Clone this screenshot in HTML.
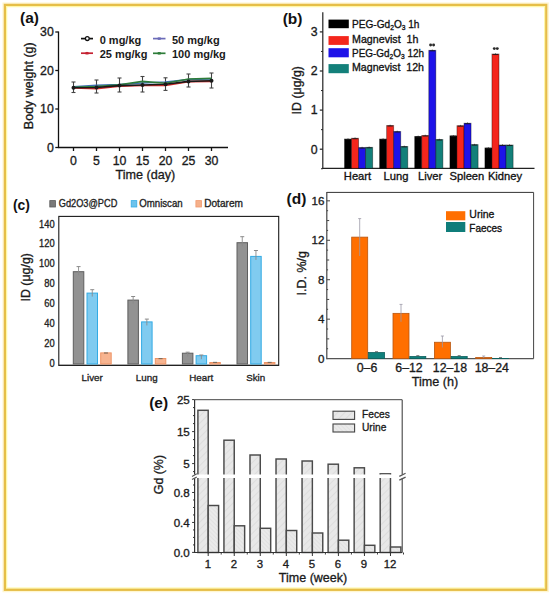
<!DOCTYPE html>
<html><head><meta charset="utf-8"><style>
html,body{margin:0;padding:0;background:#fff;}
svg{display:block;font-family:"Liberation Sans", sans-serif;}
</style></head><body>
<svg width="550" height="595" viewBox="0 0 550 595">
<rect width="550" height="595" fill="#fff"/>
<rect x="3.00" y="3.00" width="545.30" height="588.70" fill="none" stroke="#FFF6C8" stroke-width="1.0" />
<rect x="6.60" y="6.60" width="538.10" height="581.50" fill="none" stroke="#FFF7A6" stroke-width="1.3" />
<rect x="4.85" y="4.85" width="541.45" height="584.95" fill="none" stroke="#E6BE48" stroke-width="2.3" />
<text x="20.00" y="22.50" font-size="15.5" text-anchor="start" font-weight="700" fill="#111" stroke="#111" stroke-width="0.0" >(a)</text>
<line x1="58.50" y1="31.50" x2="58.50" y2="148.00" stroke="#111" stroke-width="1.3" />
<line x1="57.90" y1="147.50" x2="228.00" y2="147.50" stroke="#111" stroke-width="1.3" />
<line x1="55.30" y1="147.50" x2="58.50" y2="147.50" stroke="#111" stroke-width="1.3" />
<text x="53.80" y="151.90" font-size="12.3" text-anchor="end" font-weight="400" fill="#1a1a1a" stroke="#1a1a1a" stroke-width="0.32" >0</text>
<line x1="55.30" y1="109.00" x2="58.50" y2="109.00" stroke="#111" stroke-width="1.3" />
<text x="53.80" y="113.40" font-size="12.3" text-anchor="end" font-weight="400" fill="#1a1a1a" stroke="#1a1a1a" stroke-width="0.32" >10</text>
<line x1="55.30" y1="70.50" x2="58.50" y2="70.50" stroke="#111" stroke-width="1.3" />
<text x="53.80" y="74.90" font-size="12.3" text-anchor="end" font-weight="400" fill="#1a1a1a" stroke="#1a1a1a" stroke-width="0.32" >20</text>
<line x1="55.30" y1="32.00" x2="58.50" y2="32.00" stroke="#111" stroke-width="1.3" />
<text x="53.80" y="36.40" font-size="12.3" text-anchor="end" font-weight="400" fill="#1a1a1a" stroke="#1a1a1a" stroke-width="0.32" >30</text>
<line x1="73.50" y1="147.50" x2="73.50" y2="151.00" stroke="#111" stroke-width="1.3" />
<text x="73.50" y="164.80" font-size="12.3" text-anchor="middle" font-weight="400" fill="#1a1a1a" stroke="#1a1a1a" stroke-width="0.32" >0</text>
<line x1="96.50" y1="147.50" x2="96.50" y2="151.00" stroke="#111" stroke-width="1.3" />
<text x="96.50" y="164.80" font-size="12.3" text-anchor="middle" font-weight="400" fill="#1a1a1a" stroke="#1a1a1a" stroke-width="0.32" >5</text>
<line x1="119.50" y1="147.50" x2="119.50" y2="151.00" stroke="#111" stroke-width="1.3" />
<text x="119.50" y="164.80" font-size="12.3" text-anchor="middle" font-weight="400" fill="#1a1a1a" stroke="#1a1a1a" stroke-width="0.32" >10</text>
<line x1="142.50" y1="147.50" x2="142.50" y2="151.00" stroke="#111" stroke-width="1.3" />
<text x="142.50" y="164.80" font-size="12.3" text-anchor="middle" font-weight="400" fill="#1a1a1a" stroke="#1a1a1a" stroke-width="0.32" >15</text>
<line x1="165.50" y1="147.50" x2="165.50" y2="151.00" stroke="#111" stroke-width="1.3" />
<text x="165.50" y="164.80" font-size="12.3" text-anchor="middle" font-weight="400" fill="#1a1a1a" stroke="#1a1a1a" stroke-width="0.32" >20</text>
<line x1="188.50" y1="147.50" x2="188.50" y2="151.00" stroke="#111" stroke-width="1.3" />
<text x="188.50" y="164.80" font-size="12.3" text-anchor="middle" font-weight="400" fill="#1a1a1a" stroke="#1a1a1a" stroke-width="0.32" >25</text>
<line x1="211.50" y1="147.50" x2="211.50" y2="151.00" stroke="#111" stroke-width="1.3" />
<text x="211.50" y="164.80" font-size="12.3" text-anchor="middle" font-weight="400" fill="#1a1a1a" stroke="#1a1a1a" stroke-width="0.32" >30</text>
<text x="145.30" y="179.20" font-size="12.6" text-anchor="middle" font-weight="400" fill="#1a1a1a" stroke="#1a1a1a" stroke-width="0.32" >Time (day)</text>
<text x="32.60" y="85.70" font-size="12.5" text-anchor="middle" font-weight="400" fill="#1a1a1a" stroke="#1a1a1a" stroke-width="0.32" transform="rotate(-90 32.60 85.70)" >Body weight (g)</text>
<line x1="73.50" y1="82.00" x2="73.50" y2="92.50" stroke="#444" stroke-width="1.1" />
<line x1="71.50" y1="82.00" x2="75.50" y2="82.00" stroke="#444" stroke-width="1.1" />
<line x1="71.50" y1="92.50" x2="75.50" y2="92.50" stroke="#444" stroke-width="1.1" />
<line x1="96.50" y1="80.00" x2="96.50" y2="93.00" stroke="#444" stroke-width="1.1" />
<line x1="94.50" y1="80.00" x2="98.50" y2="80.00" stroke="#444" stroke-width="1.1" />
<line x1="94.50" y1="93.00" x2="98.50" y2="93.00" stroke="#444" stroke-width="1.1" />
<line x1="119.50" y1="78.00" x2="119.50" y2="92.00" stroke="#444" stroke-width="1.1" />
<line x1="117.50" y1="78.00" x2="121.50" y2="78.00" stroke="#444" stroke-width="1.1" />
<line x1="117.50" y1="92.00" x2="121.50" y2="92.00" stroke="#444" stroke-width="1.1" />
<line x1="142.50" y1="76.50" x2="142.50" y2="92.00" stroke="#444" stroke-width="1.1" />
<line x1="140.50" y1="76.50" x2="144.50" y2="76.50" stroke="#444" stroke-width="1.1" />
<line x1="140.50" y1="92.00" x2="144.50" y2="92.00" stroke="#444" stroke-width="1.1" />
<line x1="165.50" y1="77.80" x2="165.50" y2="90.40" stroke="#444" stroke-width="1.1" />
<line x1="163.50" y1="77.80" x2="167.50" y2="77.80" stroke="#444" stroke-width="1.1" />
<line x1="163.50" y1="90.40" x2="167.50" y2="90.40" stroke="#444" stroke-width="1.1" />
<line x1="188.50" y1="74.00" x2="188.50" y2="87.00" stroke="#444" stroke-width="1.1" />
<line x1="186.50" y1="74.00" x2="190.50" y2="74.00" stroke="#444" stroke-width="1.1" />
<line x1="186.50" y1="87.00" x2="190.50" y2="87.00" stroke="#444" stroke-width="1.1" />
<line x1="211.50" y1="73.00" x2="211.50" y2="88.00" stroke="#444" stroke-width="1.1" />
<line x1="209.50" y1="73.00" x2="213.50" y2="73.00" stroke="#444" stroke-width="1.1" />
<line x1="209.50" y1="88.00" x2="213.50" y2="88.00" stroke="#444" stroke-width="1.1" />
<polyline points="73.5,86.7 96.5,85.3 119.5,84.5 142.5,83.0 165.5,82.0 188.5,79.5 211.5,79.0" fill="none" stroke="#3f6fb0" stroke-width="1.6"/>
<polyline points="73.5,87.2 96.5,86.5 119.5,84.8 142.5,81.4 165.5,83.2 188.5,79.0 211.5,78.4" fill="none" stroke="#2e7d3a" stroke-width="1.6"/>
<polyline points="73.5,88.0 96.5,88.6 119.5,86.3 142.5,85.5 165.5,85.5 188.5,81.6 211.5,81.4" fill="none" stroke="#d42a2a" stroke-width="1.6"/>
<polyline points="73.5,87.7 96.5,87.5 119.5,85.6 142.5,85.0 165.5,84.3 188.5,81.4 211.5,80.8" fill="none" stroke="#1a1a1a" stroke-width="1.6"/>
<circle cx="73.5" cy="87.7" r="2.0" fill="#1a1a1a"/>
<circle cx="96.5" cy="87.5" r="2.0" fill="#1a1a1a"/>
<circle cx="119.5" cy="85.6" r="2.0" fill="#1a1a1a"/>
<circle cx="142.5" cy="85.0" r="2.0" fill="#1a1a1a"/>
<circle cx="165.5" cy="84.3" r="2.0" fill="#1a1a1a"/>
<circle cx="188.5" cy="81.4" r="2.0" fill="#1a1a1a"/>
<circle cx="211.5" cy="80.8" r="2.0" fill="#1a1a1a"/>
<line x1="81.00" y1="38.60" x2="93.00" y2="38.60" stroke="#111" stroke-width="1.7" />
<circle cx="87.3" cy="38.6" r="1.9" fill="#fff" stroke="#111" stroke-width="1.3"/>
<line x1="81.00" y1="53.20" x2="93.00" y2="53.20" stroke="#c52232" stroke-width="1.7" />
<line x1="85.50" y1="53.20" x2="88.50" y2="53.20" stroke="#c52232" stroke-width="2.5" />
<line x1="153.00" y1="38.60" x2="165.50" y2="38.60" stroke="#6b6bb8" stroke-width="1.7" />
<line x1="157.75" y1="38.60" x2="160.75" y2="38.60" stroke="#6b6bb8" stroke-width="2.5" />
<line x1="153.00" y1="53.30" x2="165.50" y2="53.30" stroke="#2e7d3a" stroke-width="1.7" />
<line x1="157.75" y1="53.30" x2="160.75" y2="53.30" stroke="#2e7d3a" stroke-width="2.5" />
<text x="99.70" y="43.60" font-size="11" text-anchor="start" font-weight="700" fill="#1a1a1a" stroke="#1a1a1a" stroke-width="0.0" >0 mg/kg</text>
<text x="99.70" y="58.20" font-size="11" text-anchor="start" font-weight="700" fill="#1a1a1a" stroke="#1a1a1a" stroke-width="0.0" >25 mg/kg</text>
<text x="172.00" y="43.60" font-size="11" text-anchor="start" font-weight="700" fill="#1a1a1a" stroke="#1a1a1a" stroke-width="0.0" >50 mg/kg</text>
<text x="172.00" y="58.20" font-size="11" text-anchor="start" font-weight="700" fill="#1a1a1a" stroke="#1a1a1a" stroke-width="0.0" >100 mg/kg</text>
<text x="282.70" y="24.30" font-size="15.5" text-anchor="start" font-weight="700" fill="#111" stroke="#111" stroke-width="0.0" >(b)</text>
<line x1="322.80" y1="12.30" x2="322.80" y2="168.50" stroke="#222" stroke-width="1.2" />
<line x1="322.20" y1="168.30" x2="534.50" y2="168.30" stroke="#222" stroke-width="1.2" />
<line x1="319.80" y1="149.20" x2="322.80" y2="149.20" stroke="#222" stroke-width="1.2" />
<text x="317.60" y="153.50" font-size="12.3" text-anchor="end" font-weight="400" fill="#1a1a1a" stroke="#1a1a1a" stroke-width="0.32" >0</text>
<line x1="319.80" y1="110.10" x2="322.80" y2="110.10" stroke="#222" stroke-width="1.2" />
<text x="317.60" y="114.40" font-size="12.3" text-anchor="end" font-weight="400" fill="#1a1a1a" stroke="#1a1a1a" stroke-width="0.32" >1</text>
<line x1="319.80" y1="71.00" x2="322.80" y2="71.00" stroke="#222" stroke-width="1.2" />
<text x="317.60" y="75.30" font-size="12.3" text-anchor="end" font-weight="400" fill="#1a1a1a" stroke="#1a1a1a" stroke-width="0.32" >2</text>
<line x1="319.80" y1="31.90" x2="322.80" y2="31.90" stroke="#222" stroke-width="1.2" />
<text x="317.60" y="36.20" font-size="12.3" text-anchor="end" font-weight="400" fill="#1a1a1a" stroke="#1a1a1a" stroke-width="0.32" >3</text>
<line x1="321.00" y1="168.75" x2="322.80" y2="168.75" stroke="#222" stroke-width="1.0" />
<line x1="321.00" y1="129.65" x2="322.80" y2="129.65" stroke="#222" stroke-width="1.0" />
<line x1="321.00" y1="90.55" x2="322.80" y2="90.55" stroke="#222" stroke-width="1.0" />
<line x1="321.00" y1="51.45" x2="322.80" y2="51.45" stroke="#222" stroke-width="1.0" />
<text x="300.80" y="90.20" font-size="12.6" text-anchor="middle" font-weight="400" fill="#1a1a1a" stroke="#1a1a1a" stroke-width="0.32" transform="rotate(-90 300.80 90.20)" textLength="48.4" lengthAdjust="spacingAndGlyphs">ID (μg/g)</text>
<rect x="344.50" y="139.00" width="7.05" height="29.30" fill="#000000" stroke="rgba(0,0,0,0.45)" stroke-width="0.8" />
<line x1="345.30" y1="139.50" x2="350.70" y2="139.50" stroke="#1a1a1a" stroke-width="1.1" opacity="0.85"/>
<line x1="348.00" y1="138.20" x2="348.00" y2="139.50" stroke="#1a1a1a" stroke-width="0.9" opacity="0.6"/>
<rect x="351.55" y="138.20" width="7.05" height="30.10" fill="#f4261c" stroke="rgba(0,0,0,0.45)" stroke-width="0.8" />
<line x1="352.35" y1="138.70" x2="357.75" y2="138.70" stroke="#1a1a1a" stroke-width="1.1" opacity="0.85"/>
<line x1="355.05" y1="137.40" x2="355.05" y2="138.70" stroke="#1a1a1a" stroke-width="0.9" opacity="0.6"/>
<rect x="358.60" y="147.60" width="7.05" height="20.70" fill="#1d12e8" stroke="rgba(0,0,0,0.45)" stroke-width="0.8" />
<line x1="359.40" y1="148.10" x2="364.80" y2="148.10" stroke="#1a1a1a" stroke-width="1.1" opacity="0.85"/>
<line x1="362.10" y1="146.80" x2="362.10" y2="148.10" stroke="#1a1a1a" stroke-width="0.9" opacity="0.6"/>
<rect x="365.65" y="147.30" width="7.05" height="21.00" fill="#13807a" stroke="rgba(0,0,0,0.45)" stroke-width="0.8" />
<line x1="366.45" y1="147.80" x2="371.85" y2="147.80" stroke="#1a1a1a" stroke-width="1.1" opacity="0.85"/>
<line x1="369.15" y1="146.50" x2="369.15" y2="147.80" stroke="#1a1a1a" stroke-width="0.9" opacity="0.6"/>
<rect x="379.60" y="139.00" width="7.05" height="29.30" fill="#000000" stroke="rgba(0,0,0,0.45)" stroke-width="0.8" />
<line x1="380.40" y1="139.50" x2="385.80" y2="139.50" stroke="#1a1a1a" stroke-width="1.1" opacity="0.85"/>
<line x1="383.10" y1="138.20" x2="383.10" y2="139.50" stroke="#1a1a1a" stroke-width="0.9" opacity="0.6"/>
<rect x="386.65" y="125.50" width="7.05" height="42.80" fill="#f4261c" stroke="rgba(0,0,0,0.45)" stroke-width="0.8" />
<line x1="387.45" y1="126.00" x2="392.85" y2="126.00" stroke="#1a1a1a" stroke-width="1.1" opacity="0.85"/>
<line x1="390.15" y1="124.70" x2="390.15" y2="126.00" stroke="#1a1a1a" stroke-width="0.9" opacity="0.6"/>
<rect x="393.70" y="131.50" width="7.05" height="36.80" fill="#1d12e8" stroke="rgba(0,0,0,0.45)" stroke-width="0.8" />
<line x1="394.50" y1="132.00" x2="399.90" y2="132.00" stroke="#1a1a1a" stroke-width="1.1" opacity="0.85"/>
<line x1="397.20" y1="130.70" x2="397.20" y2="132.00" stroke="#1a1a1a" stroke-width="0.9" opacity="0.6"/>
<rect x="400.75" y="146.40" width="7.05" height="21.90" fill="#13807a" stroke="rgba(0,0,0,0.45)" stroke-width="0.8" />
<line x1="401.55" y1="146.90" x2="406.95" y2="146.90" stroke="#1a1a1a" stroke-width="1.1" opacity="0.85"/>
<line x1="404.25" y1="145.60" x2="404.25" y2="146.90" stroke="#1a1a1a" stroke-width="0.9" opacity="0.6"/>
<rect x="414.70" y="136.40" width="7.05" height="31.90" fill="#000000" stroke="rgba(0,0,0,0.45)" stroke-width="0.8" />
<line x1="415.50" y1="136.90" x2="420.90" y2="136.90" stroke="#1a1a1a" stroke-width="1.1" opacity="0.85"/>
<line x1="418.20" y1="135.60" x2="418.20" y2="136.90" stroke="#1a1a1a" stroke-width="0.9" opacity="0.6"/>
<rect x="421.75" y="135.50" width="7.05" height="32.80" fill="#f4261c" stroke="rgba(0,0,0,0.45)" stroke-width="0.8" />
<line x1="422.55" y1="136.00" x2="427.95" y2="136.00" stroke="#1a1a1a" stroke-width="1.1" opacity="0.85"/>
<line x1="425.25" y1="134.70" x2="425.25" y2="136.00" stroke="#1a1a1a" stroke-width="0.9" opacity="0.6"/>
<rect x="428.80" y="50.30" width="7.05" height="118.00" fill="#1d12e8" stroke="rgba(0,0,0,0.45)" stroke-width="0.8" />
<line x1="429.60" y1="50.80" x2="435.00" y2="50.80" stroke="#1a1a1a" stroke-width="1.1" opacity="0.85"/>
<line x1="432.30" y1="49.50" x2="432.30" y2="50.80" stroke="#1a1a1a" stroke-width="0.9" opacity="0.6"/>
<rect x="435.85" y="139.50" width="7.05" height="28.80" fill="#13807a" stroke="rgba(0,0,0,0.45)" stroke-width="0.8" />
<line x1="436.65" y1="140.00" x2="442.05" y2="140.00" stroke="#1a1a1a" stroke-width="1.1" opacity="0.85"/>
<line x1="439.35" y1="138.70" x2="439.35" y2="140.00" stroke="#1a1a1a" stroke-width="0.9" opacity="0.6"/>
<rect x="449.90" y="135.80" width="7.05" height="32.50" fill="#000000" stroke="rgba(0,0,0,0.45)" stroke-width="0.8" />
<line x1="450.70" y1="136.30" x2="456.10" y2="136.30" stroke="#1a1a1a" stroke-width="1.1" opacity="0.85"/>
<line x1="453.40" y1="135.00" x2="453.40" y2="136.30" stroke="#1a1a1a" stroke-width="0.9" opacity="0.6"/>
<rect x="456.95" y="125.70" width="7.05" height="42.60" fill="#f4261c" stroke="rgba(0,0,0,0.45)" stroke-width="0.8" />
<line x1="457.75" y1="126.20" x2="463.15" y2="126.20" stroke="#1a1a1a" stroke-width="1.1" opacity="0.85"/>
<line x1="460.45" y1="124.90" x2="460.45" y2="126.20" stroke="#1a1a1a" stroke-width="0.9" opacity="0.6"/>
<rect x="464.00" y="123.20" width="7.05" height="45.10" fill="#1d12e8" stroke="rgba(0,0,0,0.45)" stroke-width="0.8" />
<line x1="464.80" y1="123.70" x2="470.20" y2="123.70" stroke="#1a1a1a" stroke-width="1.1" opacity="0.85"/>
<line x1="467.50" y1="122.40" x2="467.50" y2="123.70" stroke="#1a1a1a" stroke-width="0.9" opacity="0.6"/>
<rect x="471.05" y="144.60" width="7.05" height="23.70" fill="#13807a" stroke="rgba(0,0,0,0.45)" stroke-width="0.8" />
<line x1="471.85" y1="145.10" x2="477.25" y2="145.10" stroke="#1a1a1a" stroke-width="1.1" opacity="0.85"/>
<line x1="474.55" y1="143.80" x2="474.55" y2="145.10" stroke="#1a1a1a" stroke-width="0.9" opacity="0.6"/>
<rect x="484.90" y="147.90" width="7.05" height="20.40" fill="#000000" stroke="rgba(0,0,0,0.45)" stroke-width="0.8" />
<line x1="485.70" y1="148.40" x2="491.10" y2="148.40" stroke="#1a1a1a" stroke-width="1.1" opacity="0.85"/>
<line x1="488.40" y1="147.10" x2="488.40" y2="148.40" stroke="#1a1a1a" stroke-width="0.9" opacity="0.6"/>
<rect x="491.95" y="54.00" width="7.05" height="114.30" fill="#f4261c" stroke="rgba(0,0,0,0.45)" stroke-width="0.8" />
<line x1="492.75" y1="54.50" x2="498.15" y2="54.50" stroke="#1a1a1a" stroke-width="1.1" opacity="0.85"/>
<line x1="495.45" y1="53.20" x2="495.45" y2="54.50" stroke="#1a1a1a" stroke-width="0.9" opacity="0.6"/>
<rect x="499.00" y="145.00" width="7.05" height="23.30" fill="#1d12e8" stroke="rgba(0,0,0,0.45)" stroke-width="0.8" />
<line x1="499.80" y1="145.50" x2="505.20" y2="145.50" stroke="#1a1a1a" stroke-width="1.1" opacity="0.85"/>
<line x1="502.50" y1="144.20" x2="502.50" y2="145.50" stroke="#1a1a1a" stroke-width="0.9" opacity="0.6"/>
<rect x="506.05" y="145.00" width="7.05" height="23.30" fill="#13807a" stroke="rgba(0,0,0,0.45)" stroke-width="0.8" />
<line x1="506.85" y1="145.50" x2="512.25" y2="145.50" stroke="#1a1a1a" stroke-width="1.1" opacity="0.85"/>
<line x1="509.55" y1="144.20" x2="509.55" y2="145.50" stroke="#1a1a1a" stroke-width="0.9" opacity="0.6"/>
<text x="357.50" y="179.50" font-size="11.2" text-anchor="middle" font-weight="400" fill="#111" stroke="#111" stroke-width="0.32" >Heart</text>
<text x="396.00" y="179.50" font-size="11.2" text-anchor="middle" font-weight="400" fill="#111" stroke="#111" stroke-width="0.32" >Lung</text>
<text x="430.10" y="179.50" font-size="11.2" text-anchor="middle" font-weight="400" fill="#111" stroke="#111" stroke-width="0.32" >Liver</text>
<text x="466.90" y="179.50" font-size="11.2" text-anchor="middle" font-weight="400" fill="#111" stroke="#111" stroke-width="0.32" >Spleen</text>
<text x="505.00" y="179.50" font-size="11.2" text-anchor="middle" font-weight="400" fill="#111" stroke="#111" stroke-width="0.32" >Kidney</text>
<circle cx="430.6" cy="45.0" r="1.45" fill="#2a2a2a"/>
<circle cx="433.6" cy="45.0" r="1.45" fill="#2a2a2a"/>
<circle cx="494.3" cy="48.6" r="1.45" fill="#2a2a2a"/>
<circle cx="497.3" cy="48.6" r="1.45" fill="#2a2a2a"/>
<rect x="328.50" y="19.60" width="20.30" height="8.60" fill="#000000" stroke="none" stroke-width="0" />
<rect x="328.50" y="36.10" width="20.30" height="8.80" fill="#f4261c" stroke="none" stroke-width="0" />
<rect x="328.50" y="48.20" width="20.30" height="9.10" fill="#1d12e8" stroke="none" stroke-width="0" />
<rect x="328.50" y="64.10" width="20.30" height="9.10" fill="#13807a" stroke="none" stroke-width="0" />
<text x="352.00" y="28.30" font-size="10.6" text-anchor="start" font-weight="400" fill="#111" stroke="#111" stroke-width="0.32" textLength="67.5" lengthAdjust="spacingAndGlyphs">PEG-Gd<tspan font-size="7" dy="2">2</tspan><tspan dy="-2">O</tspan><tspan font-size="7" dy="2">3</tspan><tspan dy="-2"> 1h</tspan></text>
<text x="352.00" y="43.20" font-size="10.6" text-anchor="start" font-weight="400" fill="#111" stroke="#111" stroke-width="0.32" xml:space="preserve" textLength="66.5" lengthAdjust="spacingAndGlyphs">Magnevist  1h</text>
<text x="352.00" y="56.60" font-size="10.6" text-anchor="start" font-weight="400" fill="#111" stroke="#111" stroke-width="0.32" textLength="72" lengthAdjust="spacingAndGlyphs">PEG-Gd<tspan font-size="7" dy="2">2</tspan><tspan dy="-2">O</tspan><tspan font-size="7" dy="2">3</tspan><tspan dy="-2"> 12h</tspan></text>
<text x="352.00" y="70.70" font-size="10.6" text-anchor="start" font-weight="400" fill="#111" stroke="#111" stroke-width="0.32" xml:space="preserve" textLength="72" lengthAdjust="spacingAndGlyphs">Magnevist  12h</text>
<text x="12.90" y="210.00" font-size="15.5" text-anchor="start" font-weight="700" fill="#111" stroke="#111" stroke-width="0.0" textLength="17" lengthAdjust="spacingAndGlyphs">(c)</text>
<rect x="58.80" y="216.40" width="219.90" height="149.00" fill="none" stroke="#1a1a1a" stroke-width="1.1" />
<line x1="58.80" y1="365.40" x2="278.70" y2="365.40" stroke="#222" stroke-width="1.4" />
<text x="54.60" y="366.80" font-size="10.4" text-anchor="end" font-weight="400" fill="#222" stroke="#222" stroke-width="0.32" textLength="5.2" lengthAdjust="spacingAndGlyphs">0</text>
<text x="54.60" y="346.90" font-size="10.4" text-anchor="end" font-weight="400" fill="#222" stroke="#222" stroke-width="0.32" textLength="10.4" lengthAdjust="spacingAndGlyphs">20</text>
<text x="54.60" y="327.00" font-size="10.4" text-anchor="end" font-weight="400" fill="#222" stroke="#222" stroke-width="0.32" textLength="10.4" lengthAdjust="spacingAndGlyphs">40</text>
<text x="54.60" y="307.10" font-size="10.4" text-anchor="end" font-weight="400" fill="#222" stroke="#222" stroke-width="0.32" textLength="10.4" lengthAdjust="spacingAndGlyphs">60</text>
<text x="54.60" y="287.20" font-size="10.4" text-anchor="end" font-weight="400" fill="#222" stroke="#222" stroke-width="0.32" textLength="10.4" lengthAdjust="spacingAndGlyphs">80</text>
<text x="54.60" y="267.30" font-size="10.4" text-anchor="end" font-weight="400" fill="#222" stroke="#222" stroke-width="0.32" textLength="15.6" lengthAdjust="spacingAndGlyphs">100</text>
<text x="54.60" y="247.40" font-size="10.4" text-anchor="end" font-weight="400" fill="#222" stroke="#222" stroke-width="0.32" textLength="15.6" lengthAdjust="spacingAndGlyphs">120</text>
<text x="54.60" y="227.50" font-size="10.4" text-anchor="end" font-weight="400" fill="#222" stroke="#222" stroke-width="0.32" textLength="15.6" lengthAdjust="spacingAndGlyphs">140</text>
<text x="30.30" y="277.30" font-size="13.4" text-anchor="middle" font-weight="400" fill="#1a1a1a" stroke="#1a1a1a" stroke-width="0.32" transform="rotate(-90 30.30 277.30)" textLength="48.5" lengthAdjust="spacingAndGlyphs">ID (μg/g)</text>
<rect x="73.30" y="271.70" width="10.50" height="92.30" fill="#929292" stroke="#5e5e5e" stroke-width="1.0" />
<line x1="78.55" y1="266.60" x2="78.55" y2="275.20" stroke="#8a8a8a" stroke-width="0.9" />
<line x1="76.55" y1="266.60" x2="80.55" y2="266.60" stroke="#8a8a8a" stroke-width="1.0" />
<rect x="87.00" y="293.10" width="10.50" height="70.90" fill="#80cbf0" stroke="#33abe4" stroke-width="1.0" />
<line x1="92.25" y1="289.70" x2="92.25" y2="296.60" stroke="#8a8a8a" stroke-width="0.9" />
<line x1="90.25" y1="289.70" x2="94.25" y2="289.70" stroke="#8a8a8a" stroke-width="1.0" />
<rect x="100.70" y="352.90" width="10.50" height="11.10" fill="#f7b490" stroke="#ee9466" stroke-width="1.0" />
<line x1="103.95" y1="353.00" x2="107.95" y2="353.00" stroke="#7a6a5a" stroke-width="1.1" />
<rect x="127.90" y="300.10" width="10.50" height="63.90" fill="#929292" stroke="#5e5e5e" stroke-width="1.0" />
<line x1="133.15" y1="296.50" x2="133.15" y2="303.60" stroke="#8a8a8a" stroke-width="0.9" />
<line x1="131.15" y1="296.50" x2="135.15" y2="296.50" stroke="#8a8a8a" stroke-width="1.0" />
<rect x="141.60" y="321.90" width="10.50" height="42.10" fill="#80cbf0" stroke="#33abe4" stroke-width="1.0" />
<line x1="146.85" y1="319.10" x2="146.85" y2="325.40" stroke="#8a8a8a" stroke-width="0.9" />
<line x1="144.85" y1="319.10" x2="148.85" y2="319.10" stroke="#8a8a8a" stroke-width="1.0" />
<rect x="155.30" y="358.50" width="10.50" height="5.50" fill="#f7b490" stroke="#ee9466" stroke-width="1.0" />
<line x1="158.55" y1="358.60" x2="162.55" y2="358.60" stroke="#7a6a5a" stroke-width="1.1" />
<rect x="182.40" y="353.20" width="10.50" height="10.80" fill="#929292" stroke="#5e5e5e" stroke-width="1.0" />
<line x1="187.65" y1="352.20" x2="187.65" y2="356.70" stroke="#8a8a8a" stroke-width="0.9" />
<line x1="185.65" y1="352.20" x2="189.65" y2="352.20" stroke="#8a8a8a" stroke-width="1.0" />
<rect x="196.10" y="355.70" width="10.50" height="8.30" fill="#80cbf0" stroke="#33abe4" stroke-width="1.0" />
<line x1="201.35" y1="355.00" x2="201.35" y2="359.20" stroke="#8a8a8a" stroke-width="0.9" />
<line x1="199.35" y1="355.00" x2="203.35" y2="355.00" stroke="#8a8a8a" stroke-width="1.0" />
<rect x="209.80" y="362.50" width="10.50" height="1.50" fill="#f7b490" stroke="#ee9466" stroke-width="1.0" />
<line x1="213.05" y1="362.40" x2="217.05" y2="362.40" stroke="#7a6a5a" stroke-width="1.1" />
<rect x="237.00" y="242.70" width="10.50" height="121.30" fill="#929292" stroke="#5e5e5e" stroke-width="1.0" />
<line x1="242.25" y1="236.70" x2="242.25" y2="246.20" stroke="#8a8a8a" stroke-width="0.9" />
<line x1="240.25" y1="236.70" x2="244.25" y2="236.70" stroke="#8a8a8a" stroke-width="1.0" />
<rect x="250.70" y="256.40" width="10.50" height="107.60" fill="#80cbf0" stroke="#33abe4" stroke-width="1.0" />
<line x1="255.95" y1="250.50" x2="255.95" y2="259.90" stroke="#8a8a8a" stroke-width="0.9" />
<line x1="253.95" y1="250.50" x2="257.95" y2="250.50" stroke="#8a8a8a" stroke-width="1.0" />
<rect x="264.40" y="362.50" width="10.50" height="1.50" fill="#f7b490" stroke="#ee9466" stroke-width="1.0" />
<line x1="267.65" y1="362.40" x2="271.65" y2="362.40" stroke="#7a6a5a" stroke-width="1.1" />
<text x="92.20" y="381.30" font-size="9.8" text-anchor="middle" font-weight="400" fill="#222" stroke="#222" stroke-width="0.32" >Liver</text>
<text x="146.70" y="381.30" font-size="9.8" text-anchor="middle" font-weight="400" fill="#222" stroke="#222" stroke-width="0.32" >Lung</text>
<text x="201.20" y="381.30" font-size="9.8" text-anchor="middle" font-weight="400" fill="#222" stroke="#222" stroke-width="0.32" >Heart</text>
<text x="255.70" y="381.30" font-size="9.8" text-anchor="middle" font-weight="400" fill="#222" stroke="#222" stroke-width="0.32" >Skin</text>
<rect x="49.80" y="200.60" width="5.60" height="6.40" fill="#7a7a7a" stroke="#5a5a5a" stroke-width="0.8" />
<text x="58.80" y="207.20" font-size="10.4" text-anchor="start" font-weight="400" fill="#222" stroke="#222" stroke-width="0.32" textLength="58.5" lengthAdjust="spacingAndGlyphs">Gd2O3@PCD</text>
<rect x="131.20" y="200.60" width="5.60" height="6.40" fill="#6dc3ec" stroke="#36aee6" stroke-width="0.8" />
<text x="139.20" y="207.20" font-size="10.4" text-anchor="start" font-weight="400" fill="#222" stroke="#222" stroke-width="0.32" textLength="43.5" lengthAdjust="spacingAndGlyphs">Omniscan</text>
<rect x="195.90" y="200.60" width="5.60" height="6.40" fill="#f5b08a" stroke="#f09a6e" stroke-width="0.8" />
<text x="204.20" y="207.20" font-size="10.4" text-anchor="start" font-weight="400" fill="#222" stroke="#222" stroke-width="0.32" textLength="38.8" lengthAdjust="spacingAndGlyphs">Dotarem</text>
<text x="286.50" y="204.30" font-size="15.5" text-anchor="start" font-weight="700" fill="#111" stroke="#111" stroke-width="0.0" >(d)</text>
<line x1="326.80" y1="192.40" x2="533.60" y2="192.40" stroke="#333" stroke-width="1.0" />
<line x1="533.60" y1="192.40" x2="533.60" y2="358.70" stroke="#444" stroke-width="1.0" />
<line x1="326.80" y1="191.90" x2="326.80" y2="359.20" stroke="#444" stroke-width="1.2" />
<line x1="326.80" y1="358.70" x2="533.60" y2="358.70" stroke="#555" stroke-width="1.3" />
<line x1="326.80" y1="348.74" x2="328.10" y2="348.74" stroke="#444" stroke-width="1.0" />
<line x1="326.80" y1="338.88" x2="329.20" y2="338.88" stroke="#444" stroke-width="1.0" />
<line x1="326.80" y1="329.02" x2="328.10" y2="329.02" stroke="#444" stroke-width="1.0" />
<line x1="326.80" y1="319.16" x2="330.00" y2="319.16" stroke="#444" stroke-width="1.0" />
<line x1="326.80" y1="309.30" x2="328.10" y2="309.30" stroke="#444" stroke-width="1.0" />
<line x1="326.80" y1="299.44" x2="329.20" y2="299.44" stroke="#444" stroke-width="1.0" />
<line x1="326.80" y1="289.58" x2="328.10" y2="289.58" stroke="#444" stroke-width="1.0" />
<line x1="326.80" y1="279.72" x2="330.00" y2="279.72" stroke="#444" stroke-width="1.0" />
<line x1="326.80" y1="269.86" x2="328.10" y2="269.86" stroke="#444" stroke-width="1.0" />
<line x1="326.80" y1="260.00" x2="329.20" y2="260.00" stroke="#444" stroke-width="1.0" />
<line x1="326.80" y1="250.14" x2="328.10" y2="250.14" stroke="#444" stroke-width="1.0" />
<line x1="326.80" y1="240.28" x2="330.00" y2="240.28" stroke="#444" stroke-width="1.0" />
<line x1="326.80" y1="230.42" x2="328.10" y2="230.42" stroke="#444" stroke-width="1.0" />
<line x1="326.80" y1="220.56" x2="329.20" y2="220.56" stroke="#444" stroke-width="1.0" />
<line x1="326.80" y1="210.70" x2="328.10" y2="210.70" stroke="#444" stroke-width="1.0" />
<line x1="326.80" y1="200.84" x2="330.00" y2="200.84" stroke="#444" stroke-width="1.0" />
<text x="324.50" y="362.80" font-size="11.6" text-anchor="end" font-weight="400" fill="#1a1a1a" stroke="#1a1a1a" stroke-width="0.32" >0</text>
<text x="324.50" y="323.36" font-size="11.6" text-anchor="end" font-weight="400" fill="#1a1a1a" stroke="#1a1a1a" stroke-width="0.32" >4</text>
<text x="324.50" y="283.92" font-size="11.6" text-anchor="end" font-weight="400" fill="#1a1a1a" stroke="#1a1a1a" stroke-width="0.32" >8</text>
<text x="324.50" y="244.48" font-size="11.6" text-anchor="end" font-weight="400" fill="#1a1a1a" stroke="#1a1a1a" stroke-width="0.32" >12</text>
<text x="324.50" y="205.04" font-size="11.6" text-anchor="end" font-weight="400" fill="#1a1a1a" stroke="#1a1a1a" stroke-width="0.32" >16</text>
<text x="306.30" y="273.20" font-size="12.4" text-anchor="middle" font-weight="400" fill="#1a1a1a" stroke="#1a1a1a" stroke-width="0.32" transform="rotate(-90 306.30 273.20)" textLength="44.5" lengthAdjust="spacingAndGlyphs">I.D. %/g</text>
<rect x="351.70" y="237.13" width="16.00" height="121.47" fill="#ff6f00" stroke="#b8560f" stroke-width="0.8" />
<line x1="359.70" y1="218.60" x2="359.70" y2="256.00" stroke="#9a98a6" stroke-width="0.8" />
<line x1="358.20" y1="218.60" x2="361.20" y2="218.60" stroke="#9a98a6" stroke-width="0.8" />
<rect x="368.50" y="352.59" width="16.00" height="6.01" fill="#10807c" stroke="#0b5e5c" stroke-width="0.8" />
<line x1="375.00" y1="351.69" x2="378.00" y2="351.69" stroke="#555" stroke-width="0.8" />
<rect x="393.00" y="313.35" width="16.00" height="45.25" fill="#ff6f00" stroke="#b8560f" stroke-width="0.8" />
<line x1="401.00" y1="304.40" x2="401.00" y2="321.80" stroke="#9a98a6" stroke-width="0.8" />
<line x1="399.50" y1="304.40" x2="402.50" y2="304.40" stroke="#9a98a6" stroke-width="0.8" />
<rect x="409.80" y="356.54" width="16.00" height="2.06" fill="#10807c" stroke="#0b5e5c" stroke-width="0.8" />
<line x1="416.30" y1="355.64" x2="419.30" y2="355.64" stroke="#555" stroke-width="0.8" />
<rect x="434.40" y="342.24" width="16.00" height="16.36" fill="#ff6f00" stroke="#b8560f" stroke-width="0.8" />
<line x1="442.40" y1="336.00" x2="442.40" y2="347.50" stroke="#9a98a6" stroke-width="0.8" />
<line x1="440.90" y1="336.00" x2="443.90" y2="336.00" stroke="#9a98a6" stroke-width="0.8" />
<rect x="451.20" y="356.54" width="16.00" height="2.06" fill="#10807c" stroke="#0b5e5c" stroke-width="0.8" />
<line x1="457.70" y1="355.64" x2="460.70" y2="355.64" stroke="#555" stroke-width="0.8" />
<rect x="475.70" y="357.52" width="16.00" height="1.08" fill="#ff6f00" stroke="#b8560f" stroke-width="0.8" />
<line x1="483.70" y1="356.00" x2="483.70" y2="358.00" stroke="#9a98a6" stroke-width="0.8" />
<line x1="482.20" y1="356.00" x2="485.20" y2="356.00" stroke="#9a98a6" stroke-width="0.8" />
<rect x="492.50" y="358.51" width="16.00" height="0.09" fill="#10807c" stroke="#0b5e5c" stroke-width="0.8" />
<line x1="499.00" y1="357.61" x2="502.00" y2="357.61" stroke="#555" stroke-width="0.8" />
<text x="367.00" y="371.80" font-size="12.3" text-anchor="middle" font-weight="400" fill="#1a1a1a" stroke="#1a1a1a" stroke-width="0.32" >0–6</text>
<text x="409.00" y="371.80" font-size="12.3" text-anchor="middle" font-weight="400" fill="#1a1a1a" stroke="#1a1a1a" stroke-width="0.32" >6–12</text>
<text x="449.90" y="371.80" font-size="12.3" text-anchor="middle" font-weight="400" fill="#1a1a1a" stroke="#1a1a1a" stroke-width="0.32" >12–18</text>
<text x="491.80" y="371.80" font-size="12.3" text-anchor="middle" font-weight="400" fill="#1a1a1a" stroke="#1a1a1a" stroke-width="0.32" >18–24</text>
<text x="434.90" y="385.80" font-size="12.8" text-anchor="middle" font-weight="400" fill="#1a1a1a" stroke="#1a1a1a" stroke-width="0.32" textLength="46.5" lengthAdjust="spacingAndGlyphs">Time (h)</text>
<rect x="446.00" y="211.20" width="19.30" height="9.10" fill="#ff6f00" stroke="none" stroke-width="0" />
<rect x="446.00" y="222.00" width="19.30" height="10.00" fill="#0f7d7a" stroke="none" stroke-width="0" />
<text x="469.30" y="217.60" font-size="10.5" text-anchor="start" font-weight="400" fill="#111" stroke="#111" stroke-width="0.32" >Urine</text>
<text x="469.30" y="231.90" font-size="10.0" text-anchor="start" font-weight="400" fill="#111" stroke="#111" stroke-width="0.32" >Faeces</text>
<defs><pattern id="hf" patternUnits="userSpaceOnUse" width="5" height="5" patternTransform="rotate(45)"><rect width="5" height="5" fill="#e8e8e8"/><line x1="0" y1="0" x2="0" y2="5" stroke="#d6d6d6" stroke-width="1.2"/></pattern><pattern id="hu" patternUnits="userSpaceOnUse" width="3" height="3" patternTransform="rotate(-45)"><rect width="3" height="3" fill="#eaeaea"/><line x1="0" y1="0" x2="0" y2="3" stroke="#d8d8d8" stroke-width="1"/></pattern></defs>
<text x="149.20" y="408.20" font-size="15.5" text-anchor="start" font-weight="700" fill="#111" stroke="#111" stroke-width="0.0" >(e)</text>
<rect x="197.90" y="410.30" width="10.30" height="142.20" fill="url(#hf)" stroke="#4a4a4a" stroke-width="1.45" />
<rect x="208.20" y="505.50" width="10.40" height="47.00" fill="url(#hu)" stroke="#4a4a4a" stroke-width="1.45" />
<rect x="223.94" y="440.20" width="10.30" height="112.30" fill="url(#hf)" stroke="#4a4a4a" stroke-width="1.45" />
<rect x="234.24" y="525.80" width="10.40" height="26.70" fill="url(#hu)" stroke="#4a4a4a" stroke-width="1.45" />
<rect x="249.98" y="455.00" width="10.30" height="97.50" fill="url(#hf)" stroke="#4a4a4a" stroke-width="1.45" />
<rect x="260.28" y="528.30" width="10.40" height="24.20" fill="url(#hu)" stroke="#4a4a4a" stroke-width="1.45" />
<rect x="276.02" y="459.00" width="10.30" height="93.50" fill="url(#hf)" stroke="#4a4a4a" stroke-width="1.45" />
<rect x="286.32" y="530.50" width="10.40" height="22.00" fill="url(#hu)" stroke="#4a4a4a" stroke-width="1.45" />
<rect x="302.06" y="461.00" width="10.30" height="91.50" fill="url(#hf)" stroke="#4a4a4a" stroke-width="1.45" />
<rect x="312.36" y="533.00" width="10.40" height="19.50" fill="url(#hu)" stroke="#4a4a4a" stroke-width="1.45" />
<rect x="328.10" y="464.20" width="10.30" height="88.30" fill="url(#hf)" stroke="#4a4a4a" stroke-width="1.45" />
<rect x="338.40" y="540.20" width="10.40" height="12.30" fill="url(#hu)" stroke="#4a4a4a" stroke-width="1.45" />
<rect x="354.14" y="467.80" width="10.30" height="84.70" fill="url(#hf)" stroke="#4a4a4a" stroke-width="1.45" />
<rect x="364.44" y="545.30" width="10.40" height="7.20" fill="url(#hu)" stroke="#4a4a4a" stroke-width="1.45" />
<rect x="380.18" y="473.80" width="10.30" height="78.70" fill="url(#hf)" stroke="#4a4a4a" stroke-width="1.45" />
<rect x="390.48" y="547.00" width="10.40" height="5.50" fill="url(#hu)" stroke="#4a4a4a" stroke-width="1.45" />
<polygon points="190.6,474.6 406.2,474.6 406.2,478.1 190.6,478.1" fill="#fff"/>
<line x1="194.60" y1="399.70" x2="402.20" y2="399.70" stroke="#444" stroke-width="1.0" />
<line x1="402.20" y1="399.70" x2="402.20" y2="474.60" stroke="#444" stroke-width="1.1" />
<line x1="402.20" y1="478.30" x2="402.20" y2="552.50" stroke="#444" stroke-width="1.1" />
<line x1="194.60" y1="399.70" x2="194.60" y2="474.40" stroke="#333" stroke-width="1.2" />
<line x1="194.60" y1="478.20" x2="194.60" y2="553.00" stroke="#333" stroke-width="1.2" />
<line x1="194.10" y1="552.50" x2="402.20" y2="552.50" stroke="#333" stroke-width="1.2" />
<line x1="192.00" y1="476.40" x2="196.80" y2="473.80" stroke="#555" stroke-width="1.1" />
<line x1="192.00" y1="479.60" x2="196.80" y2="477.10" stroke="#555" stroke-width="1.1" />
<line x1="399.30" y1="476.40" x2="405.60" y2="473.30" stroke="#555" stroke-width="1.2" />
<line x1="399.30" y1="480.10" x2="405.60" y2="477.10" stroke="#555" stroke-width="1.2" />
<line x1="192.10" y1="399.60" x2="194.60" y2="399.60" stroke="#333" stroke-width="1.0" />
<line x1="193.00" y1="407.60" x2="194.60" y2="407.60" stroke="#333" stroke-width="1.0" />
<line x1="193.00" y1="415.60" x2="194.60" y2="415.60" stroke="#333" stroke-width="1.0" />
<line x1="193.00" y1="423.60" x2="194.60" y2="423.60" stroke="#333" stroke-width="1.0" />
<line x1="192.10" y1="431.60" x2="194.60" y2="431.60" stroke="#333" stroke-width="1.0" />
<line x1="193.00" y1="439.60" x2="194.60" y2="439.60" stroke="#333" stroke-width="1.0" />
<line x1="193.00" y1="447.60" x2="194.60" y2="447.60" stroke="#333" stroke-width="1.0" />
<line x1="193.00" y1="455.60" x2="194.60" y2="455.60" stroke="#333" stroke-width="1.0" />
<line x1="192.10" y1="463.60" x2="194.60" y2="463.60" stroke="#333" stroke-width="1.0" />
<line x1="193.00" y1="471.60" x2="194.60" y2="471.60" stroke="#333" stroke-width="1.0" />
<text x="189.80" y="403.80" font-size="11.6" text-anchor="end" font-weight="400" fill="#1a1a1a" stroke="#1a1a1a" stroke-width="0.32" >25</text>
<text x="189.80" y="435.80" font-size="11.6" text-anchor="end" font-weight="400" fill="#1a1a1a" stroke="#1a1a1a" stroke-width="0.32" >15</text>
<text x="189.80" y="467.80" font-size="11.6" text-anchor="end" font-weight="400" fill="#1a1a1a" stroke="#1a1a1a" stroke-width="0.32" >5</text>
<line x1="192.10" y1="552.40" x2="194.60" y2="552.40" stroke="#333" stroke-width="1.0" />
<line x1="193.00" y1="544.91" x2="194.60" y2="544.91" stroke="#333" stroke-width="1.0" />
<line x1="193.00" y1="537.42" x2="194.60" y2="537.42" stroke="#333" stroke-width="1.0" />
<line x1="193.00" y1="529.93" x2="194.60" y2="529.93" stroke="#333" stroke-width="1.0" />
<line x1="192.10" y1="522.44" x2="194.60" y2="522.44" stroke="#333" stroke-width="1.0" />
<line x1="193.00" y1="514.95" x2="194.60" y2="514.95" stroke="#333" stroke-width="1.0" />
<line x1="193.00" y1="507.46" x2="194.60" y2="507.46" stroke="#333" stroke-width="1.0" />
<line x1="193.00" y1="499.97" x2="194.60" y2="499.97" stroke="#333" stroke-width="1.0" />
<line x1="192.10" y1="492.48" x2="194.60" y2="492.48" stroke="#333" stroke-width="1.0" />
<line x1="193.00" y1="484.99" x2="194.60" y2="484.99" stroke="#333" stroke-width="1.0" />
<text x="189.80" y="556.60" font-size="11.6" text-anchor="end" font-weight="400" fill="#1a1a1a" stroke="#1a1a1a" stroke-width="0.32" >0.0</text>
<text x="189.80" y="526.64" font-size="11.6" text-anchor="end" font-weight="400" fill="#1a1a1a" stroke="#1a1a1a" stroke-width="0.32" >0.4</text>
<text x="189.80" y="496.68" font-size="11.6" text-anchor="end" font-weight="400" fill="#1a1a1a" stroke="#1a1a1a" stroke-width="0.32" >0.8</text>
<line x1="208.20" y1="552.50" x2="208.20" y2="556.00" stroke="#333" stroke-width="1.0" />
<line x1="221.20" y1="552.50" x2="221.20" y2="554.50" stroke="#333" stroke-width="1.0" />
<line x1="234.24" y1="552.50" x2="234.24" y2="556.00" stroke="#333" stroke-width="1.0" />
<line x1="247.24" y1="552.50" x2="247.24" y2="554.50" stroke="#333" stroke-width="1.0" />
<line x1="260.28" y1="552.50" x2="260.28" y2="556.00" stroke="#333" stroke-width="1.0" />
<line x1="273.28" y1="552.50" x2="273.28" y2="554.50" stroke="#333" stroke-width="1.0" />
<line x1="286.32" y1="552.50" x2="286.32" y2="556.00" stroke="#333" stroke-width="1.0" />
<line x1="299.32" y1="552.50" x2="299.32" y2="554.50" stroke="#333" stroke-width="1.0" />
<line x1="312.36" y1="552.50" x2="312.36" y2="556.00" stroke="#333" stroke-width="1.0" />
<line x1="325.36" y1="552.50" x2="325.36" y2="554.50" stroke="#333" stroke-width="1.0" />
<line x1="338.40" y1="552.50" x2="338.40" y2="556.00" stroke="#333" stroke-width="1.0" />
<line x1="351.40" y1="552.50" x2="351.40" y2="554.50" stroke="#333" stroke-width="1.0" />
<line x1="364.44" y1="552.50" x2="364.44" y2="556.00" stroke="#333" stroke-width="1.0" />
<line x1="377.44" y1="552.50" x2="377.44" y2="554.50" stroke="#333" stroke-width="1.0" />
<line x1="390.48" y1="552.50" x2="390.48" y2="556.00" stroke="#333" stroke-width="1.0" />
<line x1="403.48" y1="552.50" x2="403.48" y2="554.50" stroke="#333" stroke-width="1.0" />
<text x="207.80" y="568.20" font-size="11.4" text-anchor="middle" font-weight="400" fill="#1a1a1a" stroke="#1a1a1a" stroke-width="0.32" >1</text>
<text x="233.84" y="568.20" font-size="11.4" text-anchor="middle" font-weight="400" fill="#1a1a1a" stroke="#1a1a1a" stroke-width="0.32" >2</text>
<text x="259.88" y="568.20" font-size="11.4" text-anchor="middle" font-weight="400" fill="#1a1a1a" stroke="#1a1a1a" stroke-width="0.32" >3</text>
<text x="285.92" y="568.20" font-size="11.4" text-anchor="middle" font-weight="400" fill="#1a1a1a" stroke="#1a1a1a" stroke-width="0.32" >4</text>
<text x="311.96" y="568.20" font-size="11.4" text-anchor="middle" font-weight="400" fill="#1a1a1a" stroke="#1a1a1a" stroke-width="0.32" >5</text>
<text x="338.00" y="568.20" font-size="11.4" text-anchor="middle" font-weight="400" fill="#1a1a1a" stroke="#1a1a1a" stroke-width="0.32" >6</text>
<text x="364.04" y="568.20" font-size="11.4" text-anchor="middle" font-weight="400" fill="#1a1a1a" stroke="#1a1a1a" stroke-width="0.32" >9</text>
<text x="390.08" y="568.20" font-size="11.4" text-anchor="middle" font-weight="400" fill="#1a1a1a" stroke="#1a1a1a" stroke-width="0.32" >12</text>
<text x="313.00" y="582.40" font-size="12.5" text-anchor="middle" font-weight="400" fill="#1a1a1a" stroke="#1a1a1a" stroke-width="0.32" >Time (week)</text>
<text x="163.20" y="474.60" font-size="12.4" text-anchor="middle" font-weight="400" fill="#1a1a1a" stroke="#1a1a1a" stroke-width="0.32" transform="rotate(-90 163.20 474.60)" >Gd (%)</text>
<rect x="333.00" y="411.20" width="21.60" height="8.20" fill="url(#hf)" stroke="#444" stroke-width="1.1" />
<rect x="333.00" y="424.00" width="21.60" height="8.00" fill="url(#hu)" stroke="#444" stroke-width="1.1" />
<text x="362.00" y="418.10" font-size="10.2" text-anchor="start" font-weight="400" fill="#1a1a1a" stroke="#1a1a1a" stroke-width="0.32" >Feces</text>
<text x="362.00" y="430.90" font-size="10.2" text-anchor="start" font-weight="400" fill="#1a1a1a" stroke="#1a1a1a" stroke-width="0.32" >Urine</text>
</svg></body></html>
